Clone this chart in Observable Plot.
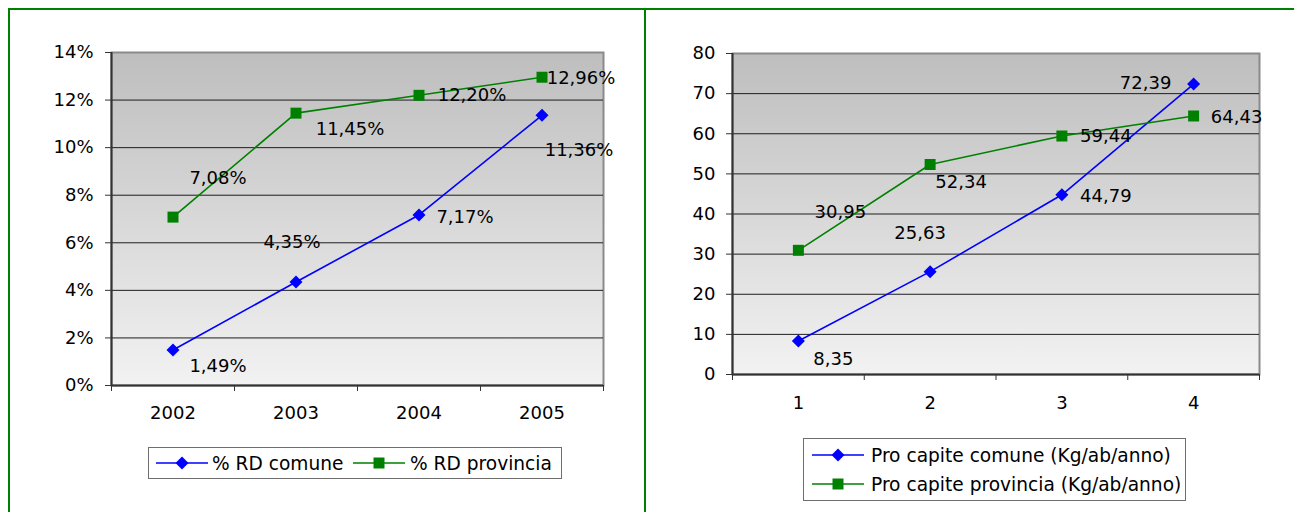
<!DOCTYPE html>
<html><head><meta charset="utf-8">
<script src="https://cdn.jsdelivr.net/npm/d3@7"></script>
<script src="https://cdn.jsdelivr.net/npm/@observablehq/plot@0.6"></script>
<style>
body{margin:0;background:#fff;}
#wrap{position:relative;width:1294px;height:512px;overflow:hidden;font-family:"DejaVu Sans",Verdana,sans-serif;color:#000;}
.border{position:absolute;left:8px;top:8px;width:3000px;height:3000px;border-left:2px solid #008000;border-top:2px solid #008000;}
.divider{position:absolute;left:644px;top:8px;width:2px;height:600px;background:#008000;}
.panel{position:absolute;top:0;}
.legend{position:absolute;border:1px solid #6e6e6e;background:#fff;box-sizing:border-box;font-size:18.6px;}
.item{position:absolute;white-space:nowrap;line-height:1;}
.sw{position:absolute;}
</style></head>
<body><div id="wrap"><div class="border"></div><div class="divider"></div></div>
<script>
// ---- data ----
const years = ["2002", "2003", "2004", "2005"];
const rdComune = [1.49, 4.35, 7.17, 11.36];
const rdProvincia = [7.08, 11.45, 12.20, 12.96];
const rdTicks = [0, 2, 4, 6, 8, 10, 12, 14];
const rdNames = ["% RD comune", "% RD provincia"];

const pcCategories = ["1", "2", "3", "4"];
const pcComune = [8.35, 25.63, 44.79, 72.39];
const pcProvincia = [30.95, 52.34, 59.44, 64.43];
const pcTicks = [0, 10, 20, 30, 40, 50, 60, 70, 80];
const pcNames = ["Pro capite comune (Kg/ab/anno)", "Pro capite provincia (Kg/ab/anno)"];

// ---- label placement (layout only) ----
const rdLabelOffsets = [[[45,16],[-4,-40],[46,2],[37,35]], [[45,-39],[54,16],[53,0],[39,1]]];
const pcLabelOffsets = [[[35,18],[-10,-38],[44,1],[-48,-1]], [[42,-38],[31,18],[44,0],[43,1]]];

const BLUE = "#0000ff", GREEN = "#008000";
const diamond = {draw(ctx, size){ const r = Math.sqrt(size/Math.PI); ctx.moveTo(0,-r); ctx.lineTo(r,0); ctx.lineTo(0,r); ctx.lineTo(-r,0); ctx.closePath(); }};
const square = {draw(ctx, size){ const r = Math.sqrt(size/Math.PI); ctx.rect(-r,-r,2*r,2*r); }};
const comma = v => v.toFixed(2).replace(".", ",");

function chart(o){
  const series = o.series.map((s, si) => s.values.map((v, i) => ({i: i + 1, v, off: o.offsets[si][i]})));
  const marks = [
    Plot.frame({fill: `url(#${o.gradId})`, stroke: "#8a8a8a", strokeWidth: 2}),
    Plot.ruleY(o.ticks.slice(1, -1), {stroke: "#1e1e1e", strokeWidth: 1}),
    Plot.ruleX([0.5], {stroke: "#333", strokeWidth: 2}),
    Plot.ruleY([o.ticks[0]], {stroke: "#333", strokeWidth: 2}),
    Plot.axisY({ticks: o.ticks, tickFormat: o.yFmt, tickSize: 6, tickPadding: o.yPad, stroke: "#333", label: null}),
    Plot.axisX({ticks: o.cats.map((c, i) => i + 0.5).concat([o.cats.length + 0.5]), tickFormat: () => "", tickSize: 6, stroke: "#333", label: null}),
    Plot.axisX({ticks: o.cats.map((c, i) => i + 1), tickFormat: d => o.cats[d - 1], tickSize: 0, tickPadding: o.xPad, label: null})
  ];
  o.series.forEach((s, si) => {
    marks.push(Plot.line(series[si], {x: "i", y: "v", stroke: s.color, strokeWidth: 1.6}));
    marks.push(Plot.dot(series[si], {x: "i", y: "v", symbol: s.symbol, r: s.r, fill: s.color, stroke: "none"}));
  });
  o.series.forEach((s, si) => {
    series[si].forEach(d => marks.push(Plot.text([d], {x: "i", y: "v", text: d => o.labelFmt(d.v), dx: d.off[0], dy: d.off[1], fill: "#000"})));
  });
  const svg = Plot.plot({
    width: o.width, height: o.height,
    marginLeft: o.ml, marginRight: o.mr, marginTop: o.mt, marginBottom: o.mb,
    x: {domain: [0.5, o.cats.length + 0.5], label: null},
    y: {domain: [o.ticks[0], o.ticks[o.ticks.length - 1]], label: null},
    style: {fontFamily: "DejaVu Sans, Verdana, sans-serif", fontSize: "18px", background: "transparent", color: "#000", overflow: "visible"},
    marks
  });
  const defs = d3.select(svg).insert("defs", ":first-child");
  const g = defs.append("linearGradient").attr("id", o.gradId).attr("x1", 0).attr("y1", 0).attr("x2", 0).attr("y2", 1);
  g.append("stop").attr("offset", "0%").attr("stop-color", "#bebebe");
  g.append("stop").attr("offset", "100%").attr("stop-color", "#f2f2f2");
  return svg;
}

function swatch(color, symbol, size){
  const s = d3.create("svg").attr("width", 54).attr("height", 20).attr("class", "sw");
  s.append("line").attr("x1", 0).attr("x2", 52).attr("y1", 10).attr("y2", 10).attr("stroke", color).attr("stroke-width", 1.6);
  s.append("path").attr("d", d3.symbol(symbol, size)()).attr("transform", "translate(26,10)").attr("fill", color);
  return s.node();
}

function legend(box, items){
  const L = document.createElement("div");
  L.className = "legend";
  Object.assign(L.style, {left: box.x + "px", top: box.y + "px", width: box.w + "px", height: box.h + "px"});
  items.forEach(it => {
    const sw = swatch(it.color, it.symbol, it.size);
    sw.style.left = it.sx + "px"; sw.style.top = (it.cy - 10) + "px";
    L.appendChild(sw);
    const t = document.createElement("div");
    t.className = "item"; t.textContent = it.name;
    t.style.left = it.tx + "px"; t.style.top = (it.cy - 8) + "px";
    L.appendChild(t);
  });
  return L;
}

const wrap = document.getElementById("wrap");

const left = chart({
  cats: years, ticks: rdTicks, yFmt: d => d + "%", labelFmt: v => comma(v) + "%",
  series: [{values: rdComune, color: BLUE, symbol: diamond, r: 6.5}, {values: rdProvincia, color: GREEN, symbol: square, r: 5.5}],
  offsets: rdLabelOffsets, gradId: "gradL",
  width: 645, height: 430, ml: 111, mr: 42, mt: 52, mb: 45, yPad: 12, xPad: 21
});
left.classList.add("panel"); left.style.left = "0px";
wrap.appendChild(left);

const right = chart({
  cats: pcCategories, ticks: pcTicks, yFmt: d => d, labelFmt: comma,
  series: [{values: pcComune, color: BLUE, symbol: diamond, r: 6.5}, {values: pcProvincia, color: GREEN, symbol: square, r: 5.5}],
  offsets: pcLabelOffsets, gradId: "gradR",
  width: 648, height: 420, ml: 86, mr: 35, mt: 53, mb: 46, yPad: 11, xPad: 22
});
right.classList.add("panel"); right.style.left = "646px";
wrap.appendChild(right);

wrap.appendChild(legend({x: 148, y: 447, w: 414, h: 32}, [
  {name: rdNames[0], color: BLUE, symbol: diamond, size: 6.5*6.5*Math.PI, sx: 7, tx: 63, cy: 15},
  {name: rdNames[1], color: GREEN, symbol: square, size: 5.5*5.5*Math.PI, sx: 204, tx: 261, cy: 15}
]));
wrap.appendChild(legend({x: 803, y: 438, w: 383, h: 63}, [
  {name: pcNames[0], color: BLUE, symbol: diamond, size: 6.5*6.5*Math.PI, sx: 8, tx: 67, cy: 16},
  {name: pcNames[1], color: GREEN, symbol: square, size: 5.5*5.5*Math.PI, sx: 8, tx: 67, cy: 45}
]));
</script></body></html>
